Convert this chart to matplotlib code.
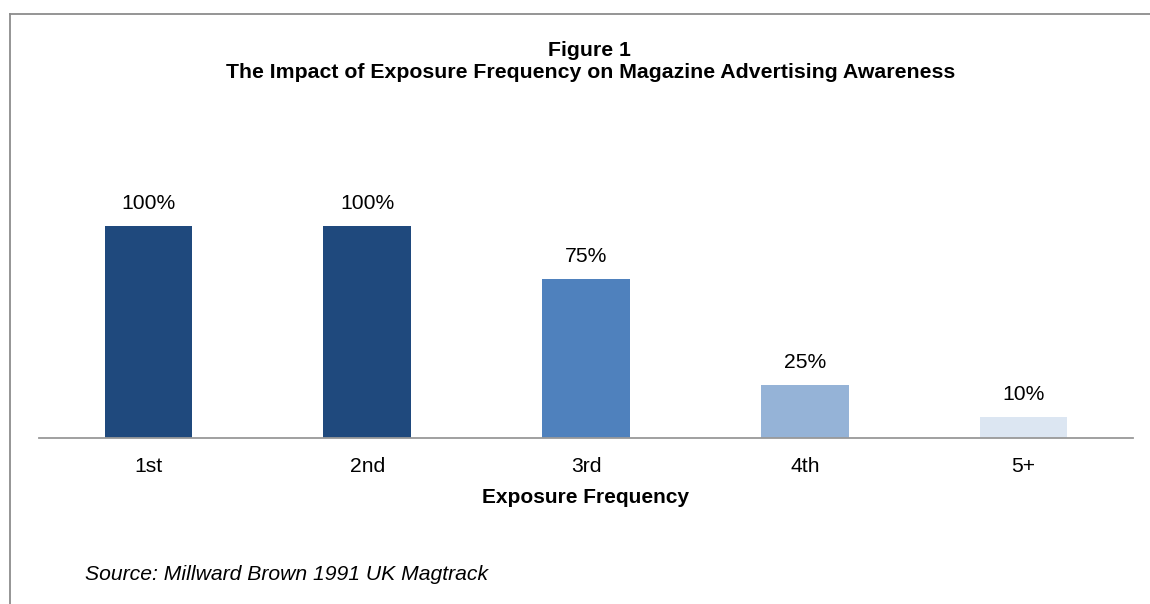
import matplotlib.pyplot as plt
from matplotlib.lines import Line2D

plt.rcParams['font.family'] = ['Liberation Sans', 'DejaVu Sans']

# exposure frequency vs. advertising awareness
categories = ['1st', '2nd', '3rd', '4th', '5+']
awareness = [100, 100, 75, 25, 10]
bar_colors = ['#1F497D', '#1F497D', '#4F81BD', '#95B3D7', '#DCE6F2']

W, H = 1150, 604
fig = plt.figure(figsize=(W / 100, H / 100), dpi=100)

ax = fig.add_axes([39 / W, 1 - 438 / H, 1094 / W, 254.4 / H])
x = range(len(categories))
bars = ax.bar(x, awareness, width=0.4, color=bar_colors)
ax.set_xlim(-0.5, len(categories) - 0.5)
ax.set_ylim(0, 120)

for b, v in zip(bars, awareness):
    ax.annotate(f'{v}%', (b.get_x() + b.get_width() / 2, v),
                xytext=(0, 12), textcoords='offset points',
                ha='center', va='baseline', fontsize=15.2)

ax.set_xticks(list(x))
ax.set_xticklabels(categories, fontsize=15.2)
for lab in ax.get_xticklabels():
    lab.set_va('baseline')
ax.tick_params(axis='x', length=0, pad=24.5)
ax.set_yticks([])
for s in ['top', 'left', 'right']:
    ax.spines[s].set_visible(False)
ax.spines['bottom'].set_color('#999999')
ax.spines['bottom'].set_linewidth(1.3)

fig.text(586 / W, 1 - 503 / H, 'Exposure Frequency', ha='center', va='baseline',
         fontsize=15, fontweight='bold')

fig.text(589 / W, 1 - 56 / H, 'Figure 1', ha='center', va='baseline',
         fontsize=15.3, fontweight='bold')
fig.text(591 / W, 1 - 78 / H,
         'The Impact of Exposure Frequency on Magazine Advertising Awareness',
         ha='center', va='baseline', fontsize=15.3, fontweight='bold')

fig.text(85 / W, 1 - 580 / H, 'Source: Millward Brown 1991 UK Magtrack',
         ha='left', va='baseline', fontsize=15.2, style='italic')

# frame lines on the top and left edges
fig.add_artist(Line2D([10 / W, 1], [1 - 14 / H, 1 - 14 / H],
                      transform=fig.transFigure, color='#8C8C8C', lw=1.3))
fig.add_artist(Line2D([10 / W, 10 / W], [0, 1 - 14 / H],
                      transform=fig.transFigure, color='#8C8C8C', lw=1.3))

fig.savefig('out.png', dpi=100)
